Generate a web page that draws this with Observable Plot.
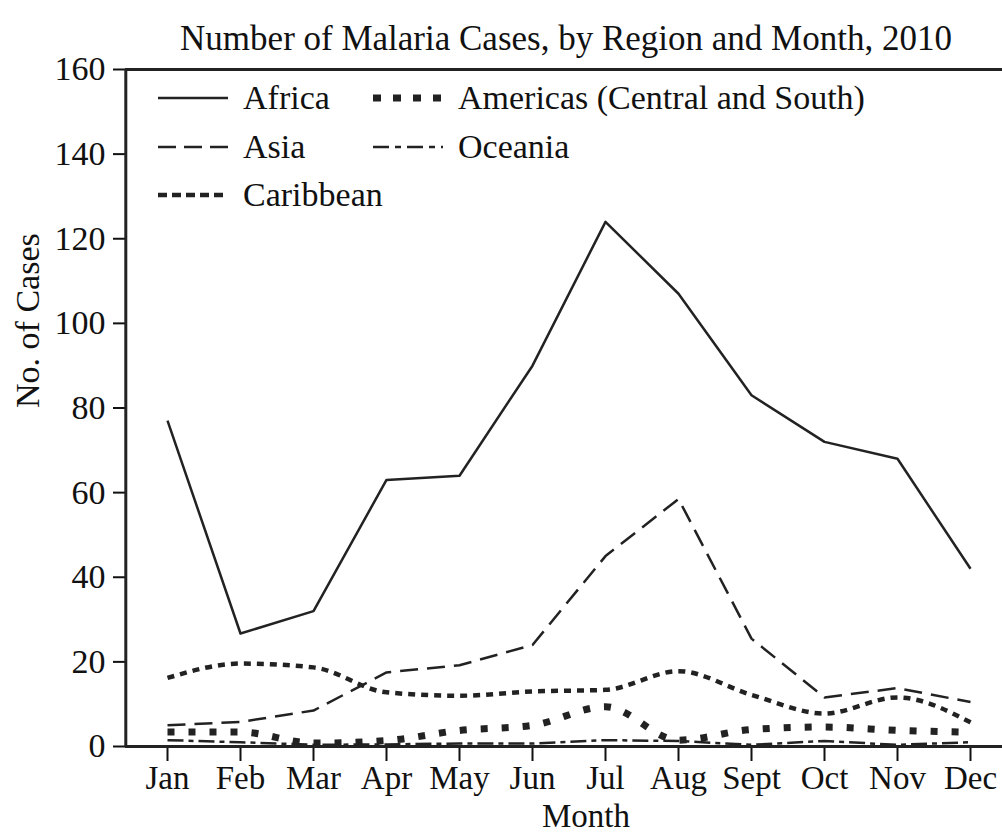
<!DOCTYPE html>
<html>
<head>
<meta charset="utf-8">
<script src="https://cdn.jsdelivr.net/npm/d3@7"></script>
<script src="https://cdn.jsdelivr.net/npm/@observablehq/plot@0.6"></script>
<style>
  body { margin: 0; background: #fff; }
  #wrap { position: relative; width: 1002px; height: 839px; font-family: "Liberation Serif", "Times New Roman", serif; color: #111; }
  .item { position: absolute; height: 40px; display: flex; align-items: center; font-size: 34px; white-space: nowrap; }
  .item svg { margin-right: 15px; }
</style>
</head>
<body>
<div id="wrap"></div>
<script>
// ---- data ----
const months = ["Jan", "Feb", "Mar", "Apr", "May", "Jun", "Jul", "Aug", "Sept", "Oct", "Nov", "Dec"];
const africa    = [77, 26.7, 32, 63, 64, 90, 124, 107, 83, 72, 68, 42];
const asia      = [5, 5.8, 8.5, 17.5, 19.2, 24, 45, 58.5, 25.5, 11.6, 13.8, 10.5];
const caribbean = [16.2, 19.6, 18.7, 12.8, 12, 13, 13.4, 17.8, 12.2, 7.8, 11.6, 5.7];
const americas  = [3.4, 3.4, 0.8, 1.4, 3.8, 5, 9.4, 1.5, 4, 4.6, 3.8, 3.4];
const oceania   = [1.5, 1, 0.4, 0.5, 0.7, 0.7, 1.5, 1.3, 0.4, 1.3, 0.4, 1];
const yTicks = [0, 20, 40, 60, 80, 100, 120, 140, 160];
const title = "Number of Malaria Cases, by Region and Month, 2010";
const xLabel = "Month";
const yLabel = "No. of Cases";

const regions = [
  {name: "Africa", values: africa, dash: null, width: 2.5, curve: "linear"},
  {name: "Asia", values: asia, dash: "18 9", width: 2.5, curve: "linear"},
  {name: "Caribbean", values: caribbean, dash: "7 6", width: 4.5, curve: "monotone-x"},
  {name: "Americas (Central and South)", values: americas, dash: "7 14", width: 7, curve: "monotone-x"},
  {name: "Oceania", values: oceania, dash: "16 5 5 5", width: 2.5, curve: "linear"}
];

const table = regions.flatMap(r => months.map((m, i) => ({region: r.name, month: m, cases: r.values[i]})));

const ink = "#222";

const chart = Plot.plot({
  width: 1002,
  height: 839,
  marginLeft: 125,
  marginRight: 0,
  marginTop: 69,
  marginBottom: 93,
  style: {fontFamily: "'Liberation Serif', 'Times New Roman', serif", color: "#111", background: "white", overflow: "visible"},
  x: {type: "point", domain: months, range: [166.7, 970.7], padding: 0},
  y: {domain: [0, 160]},
  marks: [
    Plot.axisY({ticks: yTicks, tickSize: 12, tickPadding: 8, fontSize: 34, label: null, strokeWidth: 2}),
    Plot.axisX({tickSize: 15, tickPadding: 4, fontSize: 33, label: null, strokeWidth: 2}),
    ...regions.map(r => Plot.lineY(table.filter(d => d.region === r.name), {
      x: "month", y: "cases", stroke: ink, strokeWidth: r.width,
      strokeDasharray: r.dash, curve: r.curve, strokeLinecap: "butt"
    })),
    Plot.ruleY([0, 160], {stroke: ink, strokeWidth: 3}),
    Plot.ruleX([months[0]], {dx: -41.7, stroke: ink, strokeWidth: 3}),
    Plot.text([title], {frameAnchor: "top", dy: -44, dx: 2, fontSize: 35, fill: "#111"}),
    Plot.text([xLabel], {frameAnchor: "bottom", dy: 80, dx: 22, fontSize: 33, fill: "#111"}),
    Plot.text([yLabel], {frameAnchor: "left", dx: -97, rotate: -90, fontSize: 34, fill: "#111"})
  ]
});

const wrap = document.getElementById("wrap");
wrap.appendChild(chart);

// ---- legend (inside the plot area, top-left) ----
const legendPos = [
  {name: "Africa", left: 158, cy: 98},
  {name: "Asia", left: 158, cy: 147},
  {name: "Caribbean", left: 158, cy: 195},
  {name: "Americas (Central and South)", left: 373, cy: 98},
  {name: "Oceania", left: 373, cy: 147}
];
const legendDash = {
  "Africa": {dash: null, width: 2.5},
  "Asia": {dash: "18 8", width: 2.5},
  "Caribbean": {dash: "9 5", width: 4.5},
  "Americas (Central and South)": {dash: "8 12", width: 7},
  "Oceania": {dash: "16 6 6 6", width: 2.5}
};
for (const p of legendPos) {
  const s = legendDash[p.name];
  const div = document.createElement("div");
  div.className = "item";
  div.style.left = p.left + "px";
  div.style.top = (p.cy - 20) + "px";
  const svg = d3.create("svg").attr("width", 70).attr("height", 12);
  svg.append("line").attr("x1", 0).attr("x2", 70).attr("y1", 6).attr("y2", 6)
    .attr("stroke", ink).attr("stroke-width", s.width)
    .attr("stroke-dasharray", s.dash);
  div.appendChild(svg.node());
  const span = document.createElement("span");
  span.textContent = p.name;
  div.appendChild(span);
  wrap.appendChild(div);
}
</script>
</body>
</html>
